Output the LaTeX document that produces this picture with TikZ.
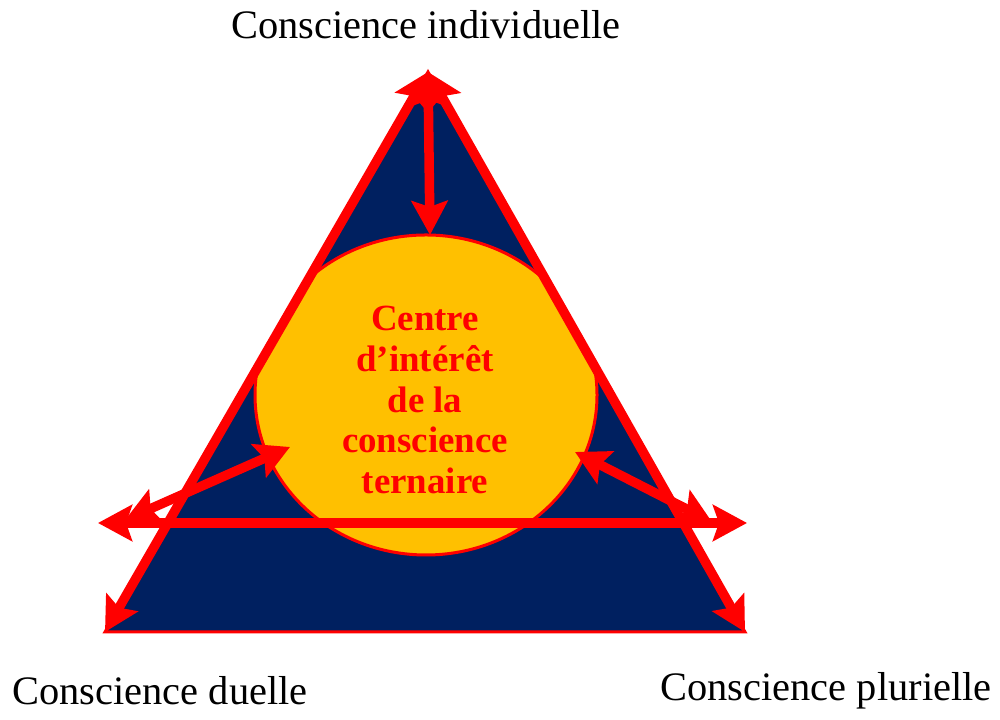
\documentclass[tikz,border=0pt]{standalone}
\usepackage{fontspec}
\setmainfont{Liberation Serif}
\definecolor{trinavy}{RGB}{0,32,96}
\definecolor{triyellow}{RGB}{255,192,0}
\definecolor{trired}{RGB}{255,0,0}
\usetikzlibrary{arrows.meta,positioning,shapes.geometric}

\begin{document}
\begin{tikzpicture}[
        label/.style={font=\fontsize{11.5}{13}\selectfont, inner sep=0pt},
        arr/.style={{Stealth[length=0.34cm, width=0.36cm, inset=0.06cm]}-{Stealth[length=0.34cm, width=0.36cm, inset=0.06cm]},
                    line width=0.095cm, trired}
      ]
        \useasboundingbox (0,0) rectangle (10,7.2);
        % corners of the triangle
        \coordinate (top) at (4.28, 6.48);
        \coordinate (bl) at (1.05, 0.88);
        \coordinate (br) at (7.45, 0.88);
        \fill[trinavy, draw=trired, line width=0.03cm] (top) -- (bl) -- (br) -- cycle;
        \begin{scope}
          \clip (top) -- (bl) -- (br) -- cycle;
          \node[ellipse, draw=trired, line width=0.03cm, fill=triyellow,
                minimum width=3.42cm, minimum height=3.2cm] (core) at (4.26, 3.25) {};
        \end{scope}
        \node[font=\bfseries\fontsize{10.5}{11.6}\selectfont, text=trired, align=center]
          (txt) at (4.25, 3.2) {Centre\\d’intérêt\\de la\\conscience\\ternaire};
        % side coordinates for the crossing arrows
        \coordinate (hl) at (0.98, 1.97);
        \coordinate (hr) at (7.47, 1.97);
        \coordinate (dl) at (1.25, 2.00);
        \coordinate (cl) at (2.90, 2.73);
        \coordinate (dr) at (7.12, 1.98);
        \coordinate (cr) at (5.75, 2.68);
        \coordinate (ctop) at (4.30, 4.85);
        \draw[arr] (top) -- (bl);
        \draw[arr] (top) -- (br);
        \draw[arr] (top) -- (ctop);
        \draw[arr] (hl) -- (hr);
        \draw[arr] (cl) -- (dl);
        \draw[arr] (cr) -- (dr);
        \node[label] (ind) at (4.26, 6.95) {Conscience individuelle};
        \node[label] (due) at (1.60, 0.29) {Conscience duelle};
        \node[label] (plu) at (8.26, 0.29) {Conscience plurielle};
      \end{tikzpicture}
\end{document}
